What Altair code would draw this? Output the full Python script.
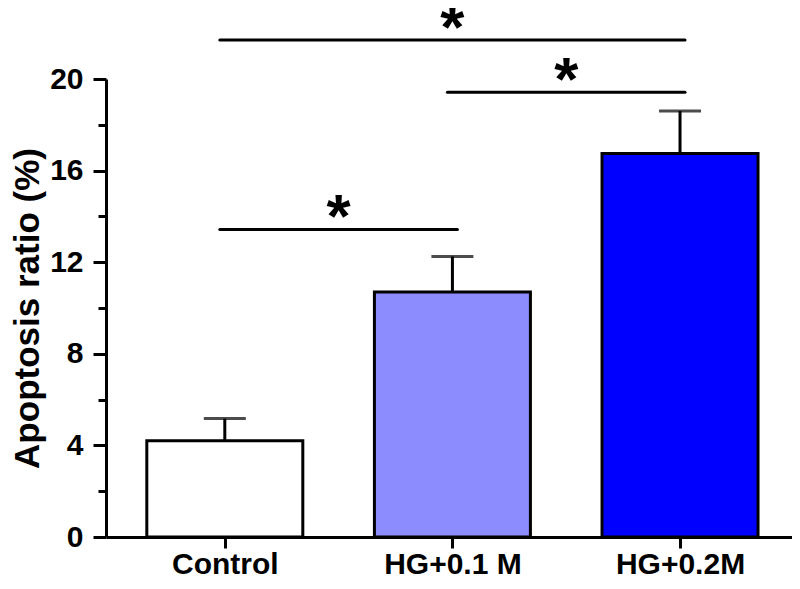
import json
import altair as alt
import pandas as pd

# ---- data ----
groups = ["Control", "HG+0.1 M", "HG+0.2M"]
positions = [0, 1, 2]
means = [4.2, 10.7, 16.75]
upper = [5.17, 12.25, 18.6]
fills = ["#ffffff", "#8c8cff", "#0000ff"]

sig_start = [0, 1, 0]
sig_end = [2, 2, 1]
sig_level = [21.7, 19.42, 13.43]
sig_label = ["*", "*", "*"]

major_ticks = [0, 4, 8, 12, 16, 20]
minor_ticks = [2, 6, 10, 14, 18]

bars_df = pd.DataFrame({"group": groups, "pos": positions, "mean": means, "upper": upper})
sig_df = pd.DataFrame({"start": sig_start, "end": sig_end, "level": sig_level, "label": sig_label})

FONT = "Liberation Sans"
label_expr = json.dumps(groups) + "[datum.value]"

xscale = alt.Scale(domain=[-0.5, 2.47], nice=False, zero=False)
yscale = alt.Scale(domain=[0, 20], nice=False, zero=True)

xaxis = alt.Axis(values=positions, labelExpr=label_expr, title=None, tickSize=11,
                 labelPadding=1, labelFontSize=30, grid=False)
yaxis = alt.Axis(values=major_ticks, title="Apoptosis ratio (%)", tickSize=13,
                 labelPadding=10, labelFontSize=30, titleFontSize=35, titlePadding=4,
                 grid=False, orient="left")
yaxis_minor = alt.Axis(values=minor_ticks, title=None, labels=False, domain=False,
                       tickSize=8, grid=False, orient="left")

base = alt.Chart(bars_df)

bars = base.mark_bar(orient="vertical", width=156, stroke="black", strokeWidth=3).encode(
    x=alt.X("pos:Q", scale=xscale, axis=xaxis),
    y=alt.Y("mean:Q", scale=yscale, axis=yaxis),
    fill=alt.Fill("group:N", scale=alt.Scale(domain=groups, range=fills), legend=None),
)

minor = base.mark_point(opacity=0).encode(
    x=alt.X("pos:Q", scale=xscale),
    y=alt.Y("mean:Q", scale=yscale, axis=yaxis_minor),
)

err = base.mark_rule(color="black", strokeWidth=3).encode(
    x=alt.X("pos:Q", scale=xscale),
    y=alt.Y("mean:Q", scale=yscale, axis=None),
    y2="upper:Q",
)

cap = base.mark_tick(orient="horizontal", size=42, thickness=3, color="black").encode(
    x=alt.X("pos:Q", scale=xscale),
    y=alt.Y("upper:Q", scale=yscale, axis=None),
)

sig_lines = alt.Chart(sig_df).mark_rule(color="black", strokeWidth=3, strokeCap="round",
                                        xOffset=-5, x2Offset=5).encode(
    x=alt.X("start:Q", scale=xscale),
    x2="end:Q",
    y=alt.Y("level:Q", scale=yscale, axis=None),
)

stars = alt.Chart(sig_df).transform_calculate(mid="(datum.start + datum.end) / 2").mark_text(
    font=FONT, fontWeight="bold", fontSize=62, baseline="alphabetic", dy=8, color="black"
).encode(
    x=alt.X("mid:Q", scale=xscale),
    y=alt.Y("level:Q", scale=yscale, axis=None),
    text="label:N",
)

chart = alt.layer(bars, minor, err, cap, sig_lines, stars).resolve_axis(y="independent").properties(
    width=686,
    height=458,
    padding={"left": 98, "top": 71, "right": 0, "bottom": 44},
    autosize=alt.AutoSizeParams(type="none"),
).configure_view(stroke=None).configure_axis(
    domainColor="black", domainWidth=3, tickColor="black", tickWidth=3,
    labelFont=FONT, labelFontWeight="bold", labelColor="black",
    titleFont=FONT, titleFontWeight="bold", titleColor="black",
)

chart.save("out.html", embed_options={"renderer": "svg", "actions": False})
